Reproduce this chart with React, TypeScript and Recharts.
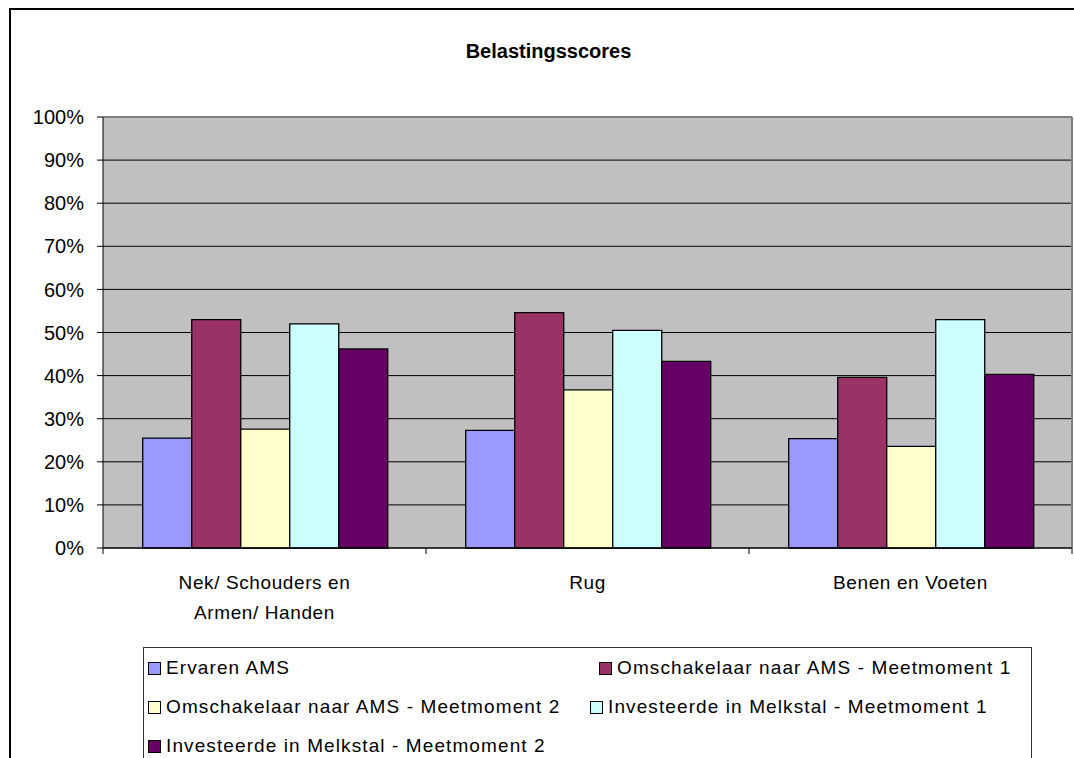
import { BarChart, Bar, XAxis, YAxis, CartesianGrid, ReferenceLine } from "recharts";

const categories = ["Nek/ Schouders en Armen/ Handen", "Rug", "Benen en Voeten"];
const categoryLines = [["Nek/ Schouders en", "Armen/ Handen"], ["Rug"], ["Benen en Voeten"]];

const seriesNames = [
  "Ervaren AMS",
  "Omschakelaar naar AMS - Meetmoment 1",
  "Omschakelaar naar AMS - Meetmoment 2",
  "Investeerde in Melkstal - Meetmoment 1",
  "Investeerde in Melkstal - Meetmoment 2",
];
const seriesColors = ["#9999FF", "#993366", "#FFFFCC", "#CCFFFF", "#660066"];

const ervaren = [25.5, 27.3, 25.4];
const omschakelaar1 = [53.0, 54.6, 39.6];
const omschakelaar2 = [27.6, 36.7, 23.6];
const melkstal1 = [52.0, 50.5, 53.0];
const melkstal2 = [46.2, 43.3, 40.3];

const yTicks = [0, 10, 20, 30, 40, 50, 60, 70, 80, 90, 100];

const seriesValues = [ervaren, omschakelaar1, omschakelaar2, melkstal1, melkstal2];
const data = categories.map((name, i) => {
  const row: Record<string, string | number> = { name };
  seriesNames.forEach((s, k) => {
    row[s] = seriesValues[k][i];
  });
  return row;
});

const FONT = "'Liberation Sans', Arial, sans-serif";

// legend item spots inside the box (Excel flows them, so they don't line up exactly)
const legendSpots = [
  { left: 4, top: 5 },
  { left: 455, top: 5 },
  { left: 4, top: 44 },
  { left: 446, top: 44 },
  { left: 4, top: 83 },
];

// category labels plus tick marks on the category boundaries
function CategoryTick(props: any) {
  const { x, y, payload, index } = props;
  const half = payload && payload.offset ? payload.offset : 161.5;
  const lines = categoryLines[index] || [String(payload.value)];
  const top = y - 8;
  return (
    <g>
      <line x1={x - half} x2={x - half} y1={top} y2={top + 6} stroke="#000" />
      {index === categories.length - 1 && (
        <line x1={x + half} x2={x + half} y1={top} y2={top + 6} stroke="#000" />
      )}
      {lines.map((l: string, i: number) => (
        <text
          key={i}
          x={x}
          y={top + 41 + i * 30}
          textAnchor="middle"
          fontSize={19}
          fontFamily={FONT}
          letterSpacing={0.6}
          fill="#000"
        >
          {l}
        </text>
      ))}
    </g>
  );
}

export default function App() {
  return (
    <div
      style={{
        position: "fixed",
        left: 0,
        top: 0,
        width: 1074,
        height: 758,
        overflow: "hidden",
        background: "#fff",
        fontFamily: FONT,
      }}
    >
      <div
        style={{
          position: "absolute",
          left: 9,
          top: 8,
          width: 1120,
          height: 820,
          borderLeft: "2px solid #000",
          borderTop: "2px solid #000",
        }}
      />
      <div
        style={{
          position: "absolute",
          left: 0,
          width: 1097,
          top: 40,
          textAlign: "center",
          fontWeight: "bold",
          fontSize: 20,
          color: "#000",
        }}
      >
        Belastingsscores
      </div>

      <div style={{ position: "absolute", left: 0, top: 0 }}>
        <BarChart
          width={1074}
          height={758}
          data={data}
          margin={{ top: 117, right: 2, left: 0, bottom: 110 }}
          barCategoryGap="12.3%"
          barGap={0}
        >
          <CartesianGrid vertical={false} stroke="#000" fill="#C0C0C0" fillOpacity={1} />
          <XAxis
            dataKey="name"
            height={100}
            axisLine={{ stroke: "#000" }}
            tickLine={false}
            tick={<CategoryTick />}
            interval={0}
          />
          <YAxis
            width={103}
            domain={[0, 100]}
            ticks={yTicks}
            tickFormatter={(v: number) => `${v}%`}
            axisLine={{ stroke: "#000" }}
            tickLine={{ stroke: "#000" }}
            tickSize={6}
            tickMargin={13}
            tick={{ fill: "#000", fontSize: 20, fontFamily: FONT }}
            interval={0}
          />
          <ReferenceLine y={100} stroke="#808080" strokeWidth={2} />
          <ReferenceLine x={categories[2]} position="end" stroke="#808080" strokeWidth={2} />
          {seriesNames.map((s, k) => (
            <Bar
              key={s}
              dataKey={s}
              fill={seriesColors[k]}
              stroke="#000"
              strokeWidth={1.3}
              isAnimationActive={false}
            />
          ))}
        </BarChart>
      </div>

      {/* legend box */}
      <div
        style={{
          position: "absolute",
          left: 143,
          top: 647,
          width: 889,
          height: 130,
          border: "1px solid #333",
          boxSizing: "border-box",
        }}
      >
        {seriesNames.map((s, k) => (
          <div
            key={s}
            style={{
              position: "absolute",
              left: legendSpots[k].left,
              top: legendSpots[k].top,
              height: 30,
              display: "flex",
              alignItems: "center",
              whiteSpace: "nowrap",
              fontSize: 19,
              letterSpacing: 1.1,
              color: "#000",
            }}
          >
            <span
              style={{
                display: "inline-block",
                width: 11,
                height: 11,
                background: seriesColors[k],
                border: "1px solid #000",
                marginRight: 5,
              }}
            />
            {s}
          </div>
        ))}
      </div>
    </div>
  );
}
